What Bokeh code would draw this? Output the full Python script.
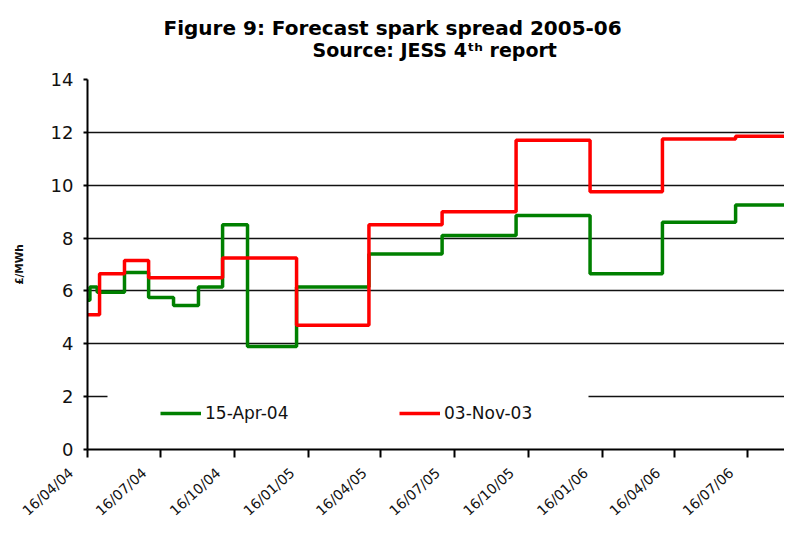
import pandas as pd
from bokeh.plotting import figure
from bokeh.models import (Range1d, FixedTicker, DatetimeTickFormatter, Legend, LegendItem,
                          BoxAnnotation, ColumnDataSource, Title)
from bokeh.embed import file_html
from bokeh.resources import INLINE

# ---------------- data ----------------
apr04_dates = ["2004-04-16", "2004-04-19", "2004-04-28", "2004-06-01", "2004-07-01",
               "2004-08-01", "2004-09-01", "2004-10-01", "2004-11-01", "2005-01-01",
               "2005-04-01", "2005-07-01", "2005-10-01", "2006-01-01", "2006-04-01",
               "2006-07-01", "2006-10-01"]
apr04_values = [5.65, 6.15, 5.95, 6.7, 5.75, 5.45, 6.15, 8.5, 3.9, 6.15,
                7.4, 8.1, 8.85, 6.65, 8.6, 9.25, 9.25]

nov03_dates = ["2004-04-16", "2004-05-01", "2004-06-01", "2004-07-01", "2004-10-01",
               "2005-01-01", "2005-04-01", "2005-07-01", "2005-10-01", "2006-01-01",
               "2006-04-01", "2006-07-01", "2006-10-01"]
nov03_values = [5.1, 6.65, 7.15, 6.5, 7.25, 4.7, 8.5, 9.0, 11.7, 9.75, 11.75, 11.85, 11.85]

x_tick_dates = ["2004-04-16", "2004-07-16", "2004-10-16", "2005-01-16", "2005-04-16",
                "2005-07-16", "2005-10-16", "2006-01-16", "2006-04-16", "2006-07-16",
                "2006-10-16"]
y_tick_values = [0, 2, 4, 6, 8, 10, 12, 14]
series_labels = ["15-Apr-04", "03-Nov-03"]
title_text = "Figure 9: Forecast spark spread 2005-06"
subtitle_text = "Source: JESS 4\u1d57\u02b0 report"
y_axis_label = "£/MWh"

# ---------------- geometry ----------------
FONT = "DejaVu Sans"
W, H = 784, 527
FRAME_L, FRAME_T, FRAME_B = 87, 79, 449
DAY_PX = 0.8041
DAY_MS = 86400000.0


def ms(d):
    return (pd.Timestamp(d) - pd.Timestamp("1970-01-01")).total_seconds() * 1000.0


x_start = ms(apr04_dates[0])
x_end = x_start + (W - FRAME_L) / DAY_PX * DAY_MS
Y_PX = (FRAME_B - FRAME_T) / (y_tick_values[-1] - y_tick_values[0])


def fx(px):
    return x_start + (px - FRAME_L) / DAY_PX * DAY_MS


def fy(py):
    return (FRAME_B - py) / Y_PX


p = figure(width=W, height=H, x_axis_type="datetime",
           x_range=Range1d(x_start, x_end), y_range=Range1d(y_tick_values[0], y_tick_values[-1]),
           output_backend="svg", toolbar_location=None,
           min_border_left=FRAME_L, min_border_right=0, min_border_top=FRAME_T,
           min_border_bottom=H - FRAME_B)
p.outline_line_color = None
p.background_fill_color = "white"
p.border_fill_color = "white"

# titles: p.title is the outermost (main title); the source line sits next to the frame
p.title.text = title_text
p.title.align = "left"
p.title.offset = 76
p.title.text_font = FONT
p.title.text_font_size = "20px"
p.title.text_font_style = "bold"
p.title.text_color = "black"
p.title.standoff = -42

sub_title = Title(text=subtitle_text, align="left", offset=225, text_font=FONT,
                  text_font_size="19px", text_font_style="bold", text_color="black",
                  standoff=37)
p.add_layout(sub_title, "above")

# grid
p.xgrid.grid_line_color = None
p.ygrid.grid_line_color = "#111111"
p.ygrid.grid_line_width = 1.6
p.ygrid.ticker = FixedTicker(ticks=y_tick_values)

# y axis
p.yaxis.ticker = FixedTicker(ticks=y_tick_values)
p.yaxis.axis_line_color = "black"
p.yaxis.axis_line_width = 2
p.yaxis.major_tick_line_color = "black"
p.yaxis.major_tick_line_width = 2
p.yaxis.major_tick_in = 0
p.yaxis.major_tick_out = 4
p.yaxis.minor_tick_line_color = None
p.yaxis.major_label_standoff = 10
p.yaxis.major_label_text_font = FONT
p.yaxis.major_label_text_font_size = "18px"
p.yaxis.major_label_text_color = "#111111"
p.yaxis.axis_label = y_axis_label
p.yaxis.axis_label_text_font = FONT
p.yaxis.axis_label_text_font_size = "10.5px"
p.yaxis.axis_label_text_font_style = "bold"
p.yaxis.axis_label_text_color = "#111111"
p.yaxis.axis_label_standoff = 23

# x axis
p.xaxis.ticker = FixedTicker(ticks=[ms(d) for d in x_tick_dates])
fmt = "%d/%m/%y" + "\u00a0" * 5
p.xaxis.formatter = DatetimeTickFormatter(
    microseconds=fmt, milliseconds=fmt, seconds=fmt, minsec=fmt, minutes=fmt,
    hourmin=fmt, hours=fmt, days=fmt, months=fmt, years=fmt)
p.xaxis.major_label_orientation = 0.74
p.xaxis.axis_line_color = "black"
p.xaxis.axis_line_width = 2
p.xaxis.major_tick_line_color = "black"
p.xaxis.major_tick_line_width = 2
p.xaxis.major_tick_in = 0
p.xaxis.major_tick_out = 8
p.xaxis.minor_tick_line_color = None
p.xaxis.major_label_standoff = -2
p.xaxis.major_label_text_font = FONT
p.xaxis.major_label_text_font_size = "14px"
p.xaxis.major_label_text_color = "#111111"

# white area behind the legend (hides part of the 2 gridline)
p.add_layout(BoxAnnotation(left=fx(107), right=fx(588), bottom=fy(406), top=fy(390),
                           fill_color="white", fill_alpha=1.0, line_color=None,
                           level="underlay"))

# series
src_a = ColumnDataSource(dict(x=pd.to_datetime(apr04_dates), y=apr04_values))
src_n = ColumnDataSource(dict(x=pd.to_datetime(nov03_dates), y=nov03_values))
r_a = p.step("x", "y", source=src_a, mode="after", line_color="#008000", line_width=3.5)
r_n = p.step("x", "y", source=src_n, mode="after", line_color="#ff0000", line_width=3.5)

legend = Legend(items=[LegendItem(label=series_labels[0], renderers=[r_a]),
                       LegendItem(label=series_labels[1], renderers=[r_n])],
                orientation="horizontal", location=(73, 26),
                padding=2, margin=0, spacing=109, glyph_width=41, glyph_height=20,
                label_standoff=4, label_width=85, label_height=20,
                label_text_font=FONT, label_text_font_size="17px",
                label_text_color="#111111",
                background_fill_color="white", background_fill_alpha=1.0,
                border_line_color=None)
p.add_layout(legend)

open("out.html", "w").write(file_html(p, INLINE))
